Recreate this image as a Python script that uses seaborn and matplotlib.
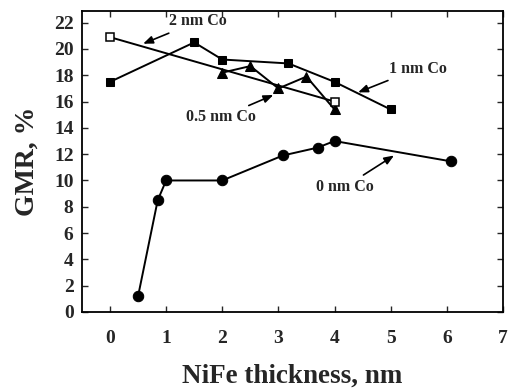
import matplotlib
matplotlib.use("Agg")
import matplotlib.pyplot as plt
import seaborn as sns
import pandas as pd

sns.set_style("ticks")
plt.rcParams['font.family'] = ['Liberation Serif', 'DejaVu Serif']
plt.rcParams['font.weight'] = 'bold'

x0 = [0.5, 0.85, 1.0, 2.0, 3.08, 3.7, 4.0, 6.08]
y0 = [1.2, 8.5, 10.0, 10.0, 11.9, 12.5, 13.0, 11.45]
x1 = [0.0, 1.5, 2.0, 3.18, 4.0, 5.0]
y1 = [17.5, 20.5, 19.2, 18.9, 17.5, 15.4]
x05 = [2.0, 2.5, 3.0, 3.5, 4.0]
y05 = [18.2, 18.7, 17.0, 17.9, 15.4]
x2 = [0.0, 4.0]
y2 = [20.9, 16.0]

xticks = [0, 1, 2, 3, 4, 5, 6, 7]
yticks = list(range(0, 23, 2))

fig = plt.figure(figsize=(5.09, 3.88), dpi=100)
ax = fig.add_axes([0.161, 0.196, 0.827, 0.776])

lw = 1.4
sns.lineplot(x=x0, y=y0, ax=ax, color='black', lw=lw, marker='o', markersize=7.5,
             markerfacecolor='black', markeredgecolor='black', sort=False)
sns.lineplot(x=x1, y=y1, ax=ax, color='black', lw=lw, marker='s', markersize=6,
             markerfacecolor='black', markeredgecolor='black', sort=False)
sns.lineplot(x=x05, y=y05, ax=ax, color='black', lw=lw, marker='^', markersize=6.5,
             markerfacecolor='black', markeredgecolor='black', sort=False)
sns.lineplot(x=x2, y=y2, ax=ax, color='black', lw=lw, marker='s', markersize=6,
             markerfacecolor='white', markeredgecolor='black', markeredgewidth=1.1, sort=False)

ax.set_xlim(-0.5, 7)
ax.set_ylim(0, 22.9)
ax.set_xticks(xticks)
ax.set_yticks(yticks)
ax.tick_params(direction='in', top=True, right=True, length=4, width=1,
               labelsize=14)
ax.tick_params(axis='x', pad=13)
ax.tick_params(axis='y', pad=6)
for lab in ax.get_xticklabels() + ax.get_yticklabels():
    lab.set_fontweight('bold')
for s in ax.spines.values():
    s.set_linewidth(1.3)
    s.set_color('black')

ax.set_xlabel('NiFe thickness, nm', fontsize=19.5, fontweight='bold', labelpad=12)
ax.set_ylabel('GMR, %', fontsize=20, fontweight='bold', labelpad=10)

ap = dict(arrowstyle='-|>,head_length=0.5,head_width=0.2', color='black', lw=1.2,
          shrinkA=1, shrinkB=0)
fs = 11.5
ax.annotate('2 nm Co', xy=(0.59, 20.4), xytext=(1.56, 22.1), fontsize=fs,
            fontweight='bold', ha='center', va='center', arrowprops=ap)
ax.annotate('1 nm Co', xy=(4.42, 16.7), xytext=(5.48, 18.5), fontsize=fs,
            fontweight='bold', ha='center', va='center', arrowprops=ap)
ax.annotate('0.5 nm Co', xy=(2.91, 16.5), xytext=(1.98, 14.8), fontsize=fs,
            fontweight='bold', ha='center', va='center', arrowprops=ap)
ax.annotate('0 nm Co', xy=(5.06, 11.9), xytext=(4.18, 9.5), fontsize=fs,
            fontweight='bold', ha='center', va='center', arrowprops=ap)

fig.savefig('out.png', dpi=100)
